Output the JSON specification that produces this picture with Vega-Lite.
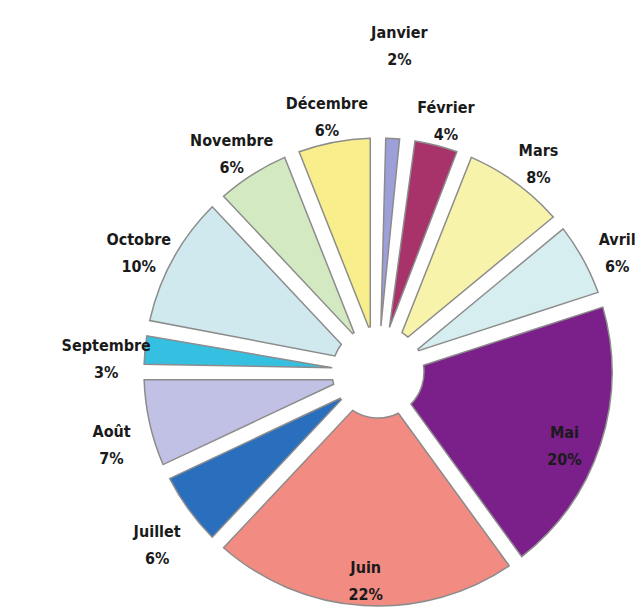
{
  "$schema": "https://vega.github.io/schema/vega-lite/v6.json",
  "width": 524,
  "height": 472,
  "autosize": {"type": "none"},
  "padding": {"left": 116, "top": 136, "right": 4, "bottom": 0},
  "background": "white",
  "view": {"stroke": null},
  "data": {
    "values": [
      {"mois": "Janvier", "pct": 2, "ordre": 1},
      {"mois": "Février", "pct": 4, "ordre": 2},
      {"mois": "Mars", "pct": 8, "ordre": 3},
      {"mois": "Avril", "pct": 6, "ordre": 4},
      {"mois": "Mai", "pct": 20, "ordre": 5},
      {"mois": "Juin", "pct": 22, "ordre": 6},
      {"mois": "Juillet", "pct": 6, "ordre": 7},
      {"mois": "Août", "pct": 7, "ordre": 8},
      {"mois": "Septembre", "pct": 3, "ordre": 9},
      {"mois": "Octobre", "pct": 10, "ordre": 10},
      {"mois": "Novembre", "pct": 6, "ordre": 11},
      {"mois": "Décembre", "pct": 6, "ordre": 12}
    ]
  },
  "transform": [
    {"calculate": "[datum.mois, datum.pct + '%']", "as": "label"}
  ],
  "encoding": {
    "theta": {"field": "pct", "type": "quantitative", "stack": true},
    "order": {"field": "ordre", "type": "quantitative"}
  },
  "layer": [
    {
      "mark": {"type": "arc", "outerRadius": 234, "innerRadius": 46, "padAngle": 0.065, "stroke": "#8c8c8c", "strokeWidth": 1.5},
      "encoding": {
        "color": {
          "field": "mois",
          "type": "nominal",
          "legend": null,
          "scale": {
            "domain": ["Janvier", "Février", "Mars", "Avril", "Mai", "Juin", "Juillet", "Août", "Septembre", "Octobre", "Novembre", "Décembre"],
            "range": ["#9d9fd8", "#a8336b", "#f8f3aa", "#d6eef0", "#7b1f8a", "#f28b82", "#2a6fbd", "#c0c1e4", "#35c0e2", "#cfe9ef", "#d2e9c2", "#f8ef8c"]
          }
        }
      }
    },
    {
      "mark": {"type": "text", "radius": 340, "font": "DejaVu Sans Condensed, Roboto, sans-serif", "fontWeight": "bold", "fontSize": 16, "lineHeight": 27, "align": "center", "baseline": "middle"},
      "encoding": {
        "detail": {"field": "mois", "type": "nominal"},
        "color": {"value": "#1a1a1a"},
        "text": {"condition": {"test": "datum.pct <= 2", "field": "label"}, "value": ""}
      }
    },
    {
      "mark": {"type": "text", "radius": 273, "font": "DejaVu Sans Condensed, Roboto, sans-serif", "fontWeight": "bold", "fontSize": 16, "lineHeight": 27, "align": "center", "baseline": "middle"},
      "encoding": {
        "detail": {"field": "mois", "type": "nominal"},
        "color": {"value": "#1a1a1a"},
        "text": {"condition": {"test": "datum.pct > 2 && datum.pct < 15", "field": "label"}, "value": ""}
      }
    },
    {
      "mark": {"type": "text", "radius": 196, "font": "DejaVu Sans Condensed, Roboto, sans-serif", "fontWeight": "bold", "fontSize": 16, "lineHeight": 27, "align": "center", "baseline": "middle"},
      "encoding": {
        "detail": {"field": "mois", "type": "nominal"},
        "color": {"value": "#1a1a1a"},
        "text": {"condition": {"test": "datum.pct >= 15", "field": "label"}, "value": ""}
      }
    }
  ]
}
